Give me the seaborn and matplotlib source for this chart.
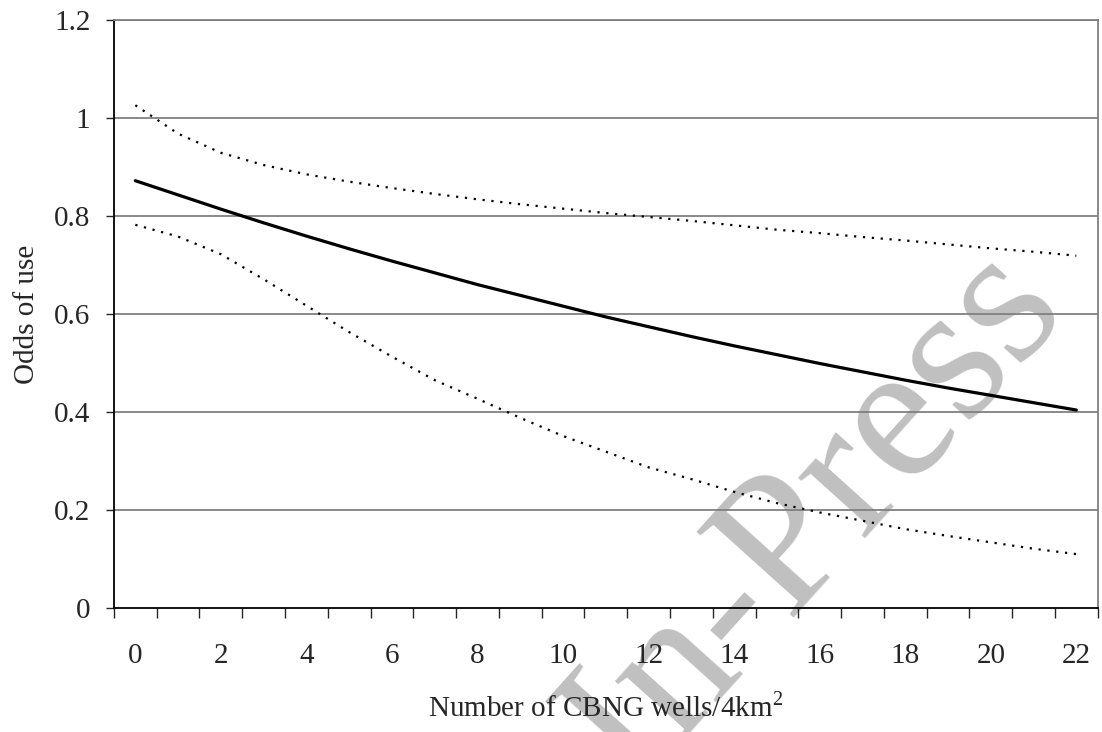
import matplotlib
matplotlib.use('Agg')
import matplotlib.pyplot as plt
import seaborn as sns

# === Data ===
wells = list(range(23))
odds = [0.872, 0.843, 0.814, 0.786, 0.759, 0.733, 0.708, 0.684, 0.660, 0.638, 0.616, 0.594,
        0.574, 0.554, 0.535, 0.517, 0.499, 0.482, 0.465, 0.449, 0.434, 0.419, 0.404]
upper = [1.026, 0.968, 0.929, 0.904, 0.885, 0.870, 0.857, 0.845, 0.834, 0.824, 0.815, 0.806,
         0.798, 0.790, 0.781, 0.772, 0.765, 0.757, 0.750, 0.742, 0.734, 0.727, 0.719]
lower = [0.782, 0.758, 0.722, 0.671, 0.617, 0.563, 0.513, 0.465, 0.427, 0.388, 0.351, 0.319,
         0.287, 0.263, 0.237, 0.214, 0.195, 0.178, 0.161, 0.147, 0.134, 0.121, 0.110]
y_ticks = [0, 0.2, 0.4, 0.6, 0.8, 1.0, 1.2]
y_labels = ['0', '0.2', '0.4', '0.6', '0.8', '1', '1.2']
x_labels = [str(w) for w in wells[::2]]

sns.set_style('white')
plt.rcParams['font.family'] = ['Liberation Serif', 'DejaVu Serif']
plt.rcParams['mathtext.fontset'] = 'custom'
plt.rcParams['mathtext.rm'] = 'Liberation Serif'

fig = plt.figure(figsize=(11.02, 7.32), dpi=100)
ax = fig.add_axes([0.1034, 0.1694, 0.8927, 0.8033])
ax.set_facecolor('none')
ax.set_zorder(1)

# === Watermark ===
fig.text(0.740, 0.295, 'In-Press', rotation=48, fontsize=142, color='#c0c0c0',
         ha='center', va='center', rotation_mode='anchor', zorder=-1)

# === Gridlines ===
for v in y_ticks[1:]:
    ax.axhline(v, color='#808080', lw=1.3, zorder=1)

# === Lines ===
sns.lineplot(x=wells, y=upper, ax=ax, color='black', lw=1.6, zorder=3)
sns.lineplot(x=wells, y=lower, ax=ax, color='black', lw=1.6, zorder=3)
sns.lineplot(x=wells, y=odds, ax=ax, color='black', lw=2.3, zorder=4)
for ln in ax.lines[-3:-1]:
    ln.set_dashes((1.0, 3.0))

ax.set_xlim(-0.5, 22.5)
ax.set_ylim(0, 1.2)

ax.set_yticks(y_ticks)
ax.set_yticklabels(y_labels)
ax.tick_params(axis='y', direction='out', length=6, width=1, pad=11, labelsize=21, left=True)

ax.set_xticks(wells[::2])
ax.set_xticklabels(x_labels)
ax.set_xticks([w - 0.5 for w in wells] + [22.5], minor=True)
ax.tick_params(axis='x', which='major', length=0, pad=25, labelsize=21)
ax.tick_params(axis='x', which='minor', direction='out', length=7, width=1, bottom=True)

for side in ['top', 'right']:
    ax.spines[side].set_color('#808080')
    ax.spines[side].set_linewidth(1.3)
for side in ['left', 'bottom']:
    ax.spines[side].set_color('black')
    ax.spines[side].set_linewidth(1.3)

ax.set_xlabel(r'Number of CBNG wells/4km$^{\mathrm{2}}$', fontsize=21, labelpad=17)
ax.set_ylabel('Odds of use', fontsize=21, labelpad=10)

plt.savefig('out.png', dpi=100)
